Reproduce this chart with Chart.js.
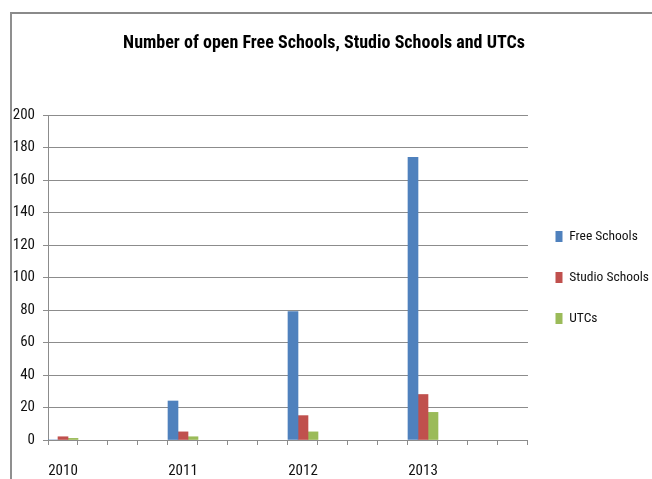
<!DOCTYPE html>
<html>
<head>
<meta charset="utf-8">
<script src="https://cdn.jsdelivr.net/npm/chart.js@4/dist/chart.umd.min.js"></script>
<style>
  html, body { margin: 0; padding: 0; background: #fff; }
  #wrap { position: relative; width: 652px; height: 479px; overflow: hidden; }
  #frame {
    position: absolute; left: 10px; top: 12px; width: 700px; height: 520px;
    border-top: 2px solid #8a8a8a; border-left: 2px solid #8f8f8f;
    pointer-events: none;
  }
  canvas { position: absolute; left: 0; top: 0; }
</style>
</head>
<body>
<div id="wrap">
  <canvas id="chart" width="652" height="479"></canvas>
  <div id="frame"></div>
</div>
<script>
// Open schools by year
const years = ['2010', '2011', '2012', '2013'];
const freeSchools = [0, 24, 79, 174];
const studioSchools = [2, 5, 15, 28];
const utcs = [1, 2, 5, 17];
const yTicks = { min: 0, max: 200, step: 20 };

// The category axis has four slots per year; only the first slot of each year holds bars.
const SLOTS_PER_YEAR = 4;
const labels = [];
years.forEach(y => {
  labels.push(y);
  for (let i = 1; i < SLOTS_PER_YEAR; i++) labels.push('');
});
function spread(values) {
  const out = [];
  values.forEach(v => {
    out.push(v);
    for (let i = 1; i < SLOTS_PER_YEAR; i++) out.push(null);
  });
  return out;
}

const FONT = "'Roboto Condensed', 'Noto Sans Condensed', 'DejaVu Sans Condensed', sans-serif";
const GRID = '#8c8c8c';

new Chart(document.getElementById('chart'), {
  type: 'bar',
  data: {
    labels: labels,
    datasets: [
      { label: 'Free Schools', data: spread(freeSchools), backgroundColor: '#4f81bd' },
      { label: 'Studio Schools', data: spread(studioSchools), backgroundColor: '#c0504d' },
      { label: 'UTCs', data: spread(utcs), backgroundColor: '#9bbb59' }
    ]
  },
  options: {
    responsive: false,
    animation: false,
    layout: { padding: { left: -11, right: -7, top: 0, bottom: 0 } },
    datasets: { bar: { barPercentage: 1, categoryPercentage: 1, borderWidth: 0 } },
    plugins: {
      title: {
        display: true,
        text: 'Number of open Free Schools, Studio Schools and UTCs',
        color: '#000',
        font: { family: FONT, size: 18, weight: 'bold' },
        padding: { top: 32.2, bottom: 61.2 }
      },
      legend: {
        position: 'right',
        fullSize: false,
        labels: {
          boxWidth: 7,
          boxHeight: 11,
          padding: 27.5,
          color: '#111',
          font: { family: FONT, size: 13.5 }
        }
      },
      tooltip: { enabled: false }
    },
    scales: {
      x: {
        afterFit: s => { s.height = 39; },
        grid: { drawOnChartArea: false, drawTicks: true, tickLength: 5, color: GRID, offset: true },
        border: { color: GRID },
        ticks: {
          autoSkip: false, maxRotation: 0, padding: 17, color: '#111',
          font: { family: FONT, size: 15 }
        }
      },
      y: {
        min: yTicks.min,
        max: yTicks.max,
        afterFit: s => { s.width = 59; },
        grid: { color: GRID, tickLength: 5 },
        border: { color: GRID },
        ticks: {
          stepSize: yTicks.step, padding: 8, color: '#111',
          font: { family: FONT, size: 15 }
        }
      }
    }
  }
});
</script>
</body>
</html>
